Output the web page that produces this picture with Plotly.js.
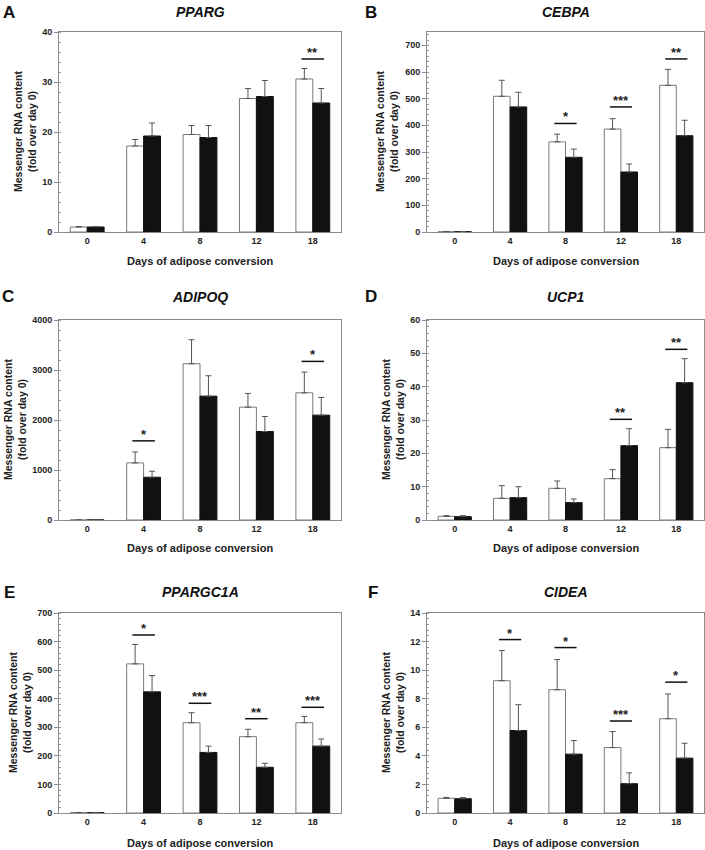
<!DOCTYPE html>
<html><head><meta charset="utf-8">
<script src="https://cdn.plot.ly/plotly-3.0.1.min.js"></script>
<style>html,body{margin:0;padding:0;background:#fff}</style>
</head><body><div id="chart" style="width:705px;height:850px"></div>
<script>
// ---------- data ----------
const days = ['0', '4', '8', '12', '18'];
const genes = ['PPARG', 'CEBPA', 'ADIPOQ', 'UCP1', 'PPARGC1A', 'CIDEA'];
const letters = ['A', 'B', 'C', 'D', 'E', 'F'];
const yMax = [40, 750, 4000, 60, 700, 14];
const yDtick = [10, 100, 1000, 10, 100, 2];

const ppargWhite = [1.0, 17.2, 19.5, 26.7, 30.6];
const ppargWhiteErr = [0.1, 1.3, 1.8, 2.0, 2.1];
const ppargBlack = [1.0, 19.2, 18.9, 27.1, 25.8];
const ppargBlackErr = [0.1, 2.6, 2.4, 3.2, 2.9];
const ppargSigDays = ['18'];
const ppargSigY = [34.6];
const ppargSigLabels = ['**'];

const cebpaWhite = [1, 509, 338, 386, 550];
const cebpaWhiteErr = [1, 60, 29, 39, 60];
const cebpaBlack = [1, 469, 280, 225, 361];
const cebpaBlackErr = [1, 55, 31, 30, 58];
const cebpaSigDays = ['8', '12', '18'];
const cebpaSigY = [407, 469, 649];
const cebpaSigLabels = ['*', '***', '**'];

const adipoqWhite = [1, 1142, 3125, 2257, 2544];
const adipoqWhiteErr = [1, 220, 481, 274, 414];
const adipoqBlack = [1, 855, 2477, 1770, 2097];
const adipoqBlackErr = [1, 120, 408, 300, 354];
const adipoqSigDays = ['4', '18'];
const adipoqSigY = [1583, 3172];
const adipoqSigLabels = ['*', '*'];

const ucp1White = [1.1, 6.5, 9.5, 12.4, 21.7];
const ucp1WhiteErr = [0.2, 3.8, 2.2, 2.7, 5.5];
const ucp1Black = [1.0, 6.7, 5.2, 22.3, 41.2];
const ucp1BlackErr = [0.3, 3.3, 1.1, 5.1, 7.2];
const ucp1SigDays = ['12', '18'];
const ucp1SigY = [30.2, 51.2];
const ucp1SigLabels = ['**', '**'];

const ppargc1aWhite = [1, 522, 316, 267, 316];
const ppargc1aWhiteErr = [1, 68, 35, 26, 22];
const ppargc1aBlack = [1, 424, 212, 160, 234];
const ppargc1aBlackErr = [1, 57, 22, 14, 25];
const ppargc1aSigDays = ['4', '8', '12', '18'];
const ppargc1aSigY = [623, 384, 330, 370];
const ppargc1aSigLabels = ['*', '***', '**', '***'];

const cideaWhite = [1.03, 9.26, 8.63, 4.58, 6.60];
const cideaWhiteErr = [0.06, 2.11, 2.11, 1.12, 1.73];
const cideaBlack = [1.0, 5.77, 4.12, 2.05, 3.84];
const cideaBlackErr = [0.08, 1.81, 0.95, 0.76, 1.04];
const cideaSigDays = ['4', '8', '12', '18'];
const cideaSigY = [12.14, 11.58, 6.44, 9.16];
const cideaSigLabels = ['*', '*', '***', '*'];

const yTitleText = 'Messenger RNA content<br>(fold over day 0)';
const xTitleText = 'Days of adipose conversion';

// ---------- assembly ----------
const panels = [
  [ppargWhite, ppargWhiteErr, ppargBlack, ppargBlackErr, ppargSigDays, ppargSigY, ppargSigLabels],
  [cebpaWhite, cebpaWhiteErr, cebpaBlack, cebpaBlackErr, cebpaSigDays, cebpaSigY, cebpaSigLabels],
  [adipoqWhite, adipoqWhiteErr, adipoqBlack, adipoqBlackErr, adipoqSigDays, adipoqSigY, adipoqSigLabels],
  [ucp1White, ucp1WhiteErr, ucp1Black, ucp1BlackErr, ucp1SigDays, ucp1SigY, ucp1SigLabels],
  [ppargc1aWhite, ppargc1aWhiteErr, ppargc1aBlack, ppargc1aBlackErr, ppargc1aSigDays, ppargc1aSigY, ppargc1aSigLabels],
  [cideaWhite, cideaWhiteErr, cideaBlack, cideaBlackErr, cideaSigDays, cideaSigY, cideaSigLabels]
];

const W = 705, H = 850;
// plot boxes in px: [left, right, top, bottom]
const boxes = [[59,341,32,232],[427,704,32,232],[59,341,320,520],[427,704,320,520],[59,341,613,813],[427,704,613,813]];
const yTitleX = [25, 387, 15, 393, 20, 393];
const letterX = [9, 371, 8, 371, 9, 373];
const headY = [12, 12, 297, 297, 592, 592];
const xTitleY = [261, 261, 548, 548, 843, 843];

const FONT = 'Liberation Sans, Arial, Helvetica, sans-serif';
const traces = [];
const shapes = [];
const annotations = [];
const layout = {
  width: W, height: H,
  margin: {l: 0, r: 0, t: 0, b: 0},
  paper_bgcolor: '#fff', plot_bgcolor: '#fff',
  showlegend: false,
  barmode: 'group', bargap: 0.4, bargroupgap: 0,
  font: {family: FONT, color: '#222'}
};

panels.forEach((p, i) => {
  const [wv, we, bv, be, sd, sy, sl] = p;
  const n = i + 1;
  const xa = 'x' + (n === 1 ? '' : n), ya = 'y' + (n === 1 ? '' : n);
  const zeros = days.map(() => 0);
  traces.push({
    type: 'bar', x: days, y: wv, xaxis: xa, yaxis: ya,
    marker: {color: '#ffffff', line: {color: '#7a7a7a', width: 1}},
    error_y: {type: 'data', symmetric: false, array: we, arrayminus: zeros, color: '#555', thickness: 1, width: 3},
    hoverinfo: 'none'
  });
  traces.push({
    type: 'bar', x: days, y: bv, xaxis: xa, yaxis: ya,
    marker: {color: '#111111', line: {color: '#111111', width: 1}},
    error_y: {type: 'data', symmetric: false, array: be, arrayminus: zeros, color: '#555', thickness: 1, width: 3},
    hoverinfo: 'none'
  });
  const b = boxes[i];
  const xKey = 'xaxis' + (n === 1 ? '' : n), yKey = 'yaxis' + (n === 1 ? '' : n);
  layout[xKey] = {
    domain: [b[0] / W, b[1] / W], anchor: ya, type: 'category',
    range: [-0.5, 4.5], showline: true, mirror: true, linecolor: '#8a8a8a', linewidth: 1,
    ticks: '', showgrid: false, zeroline: false, fixedrange: true,
    tickfont: {family: FONT, size: 9, weight: 'bold', color: '#222'}
  };
  layout[yKey] = {
    domain: [1 - b[3] / H, 1 - b[2] / H], anchor: xa,
    range: [0, yMax[i]], dtick: yDtick[i], tick0: 0,
    showline: true, mirror: true, linecolor: '#8a8a8a', linewidth: 1,
    ticks: 'outside', ticklen: 4, tickcolor: '#8a8a8a', tickwidth: 1,
    minor: {dtick: yDtick[i] / 5, ticks: 'inside', ticklen: 2, tickcolor: '#999', tickwidth: 1, showgrid: false},
    showgrid: false, zeroline: false, fixedrange: true,
    tickfont: {family: FONT, size: 9, weight: 'bold', color: '#222'}
  };
  // significance bars
  sd.forEach((d, k) => {
    const idx = days.indexOf(d);
    shapes.push({type: 'line', xref: xa, yref: ya, x0: idx - 0.2, x1: idx + 0.2, y0: sy[k], y1: sy[k],
      line: {color: '#111', width: 1.5}});
    annotations.push({xref: xa, yref: ya, x: idx, y: sy[k], text: sl[k], showarrow: false,
      xanchor: 'center', yanchor: 'bottom', yshift: -3,
      font: {family: FONT, size: 13, weight: 'bold', color: '#222'}});
  });
  const cx = (b[0] + b[1]) / 2;
  annotations.push({xref: 'paper', yref: 'paper', x: cx / W, y: 1 - headY[i] / H, text: '<i>' + genes[i] + '</i>',
    showarrow: false, xanchor: 'center', yanchor: 'middle',
    font: {family: FONT, size: 14, weight: 'bold', color: '#111'}});
  annotations.push({xref: 'paper', yref: 'paper', x: letterX[i] / W, y: 1 - headY[i] / H, text: letters[i],
    showarrow: false, xanchor: 'center', yanchor: 'middle',
    font: {family: FONT, size: 17, weight: 'bold', color: '#111'}});
  annotations.push({xref: 'paper', yref: 'paper', x: yTitleX[i] / W, y: 1 - ((b[2] + b[3]) / 2) / H, text: yTitleText,
    showarrow: false, xanchor: 'center', yanchor: 'middle', textangle: -90,
    font: {family: FONT, size: 10.5, weight: 'bold', color: '#222'}});
  annotations.push({xref: 'paper', yref: 'paper', x: cx / W, y: 1 - xTitleY[i] / H, text: xTitleText,
    showarrow: false, xanchor: 'center', yanchor: 'middle',
    font: {family: FONT, size: 11, weight: 'bold', color: '#222'}});
});
layout.shapes = shapes;
layout.annotations = annotations;

Plotly.newPlot('chart', traces, layout, {displayModeBar: false, staticPlot: true});
</script>
</body></html>
